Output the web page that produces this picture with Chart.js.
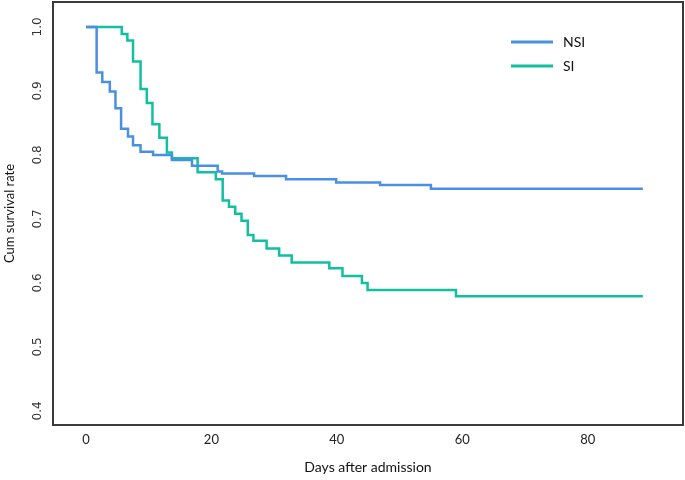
<!DOCTYPE html>
<html>
<head>
<meta charset="utf-8">
<script src="https://cdn.jsdelivr.net/npm/chart.js@4/dist/chart.umd.min.js"></script>
<style>
  body { margin: 0; background: #fff; }
  #wrap { width: 685px; height: 480px; position: relative; }
</style>
</head>
<body>
<div id="wrap"><canvas id="km"></canvas></div>
<script>
// Kaplan-Meier data (day of drop, survival after drop)
const nsiDays = [0, 1.7, 2.6, 3.8, 4.7, 5.6, 6.7, 7.5, 8.7, 10.7, 13.7, 16.9, 21.0, 21.7, 26.8, 31.9, 39.9, 46.9, 55.0, 88.8]
const nsiSurv = [1.0, 0.929, 0.914, 0.899, 0.873, 0.841, 0.829, 0.815, 0.805, 0.8, 0.792, 0.783, 0.774, 0.771, 0.767, 0.762, 0.757, 0.753, 0.747, 0.747]

const siDays = [0, 5.7, 6.6, 7.5, 8.7, 9.7, 10.6, 11.7, 12.9, 13.7, 17.8, 20.7, 21.8, 22.8, 23.8, 24.8, 25.8, 26.7, 28.8, 30.8, 32.8, 38.8, 40.9, 44.0, 44.9, 59.0, 88.8]
const siSurv = [1.0, 0.989, 0.979, 0.946, 0.903, 0.881, 0.848, 0.827, 0.804, 0.795, 0.773, 0.762, 0.729, 0.719, 0.708, 0.697, 0.675, 0.666, 0.654, 0.643, 0.632, 0.623, 0.611, 0.6, 0.589, 0.579, 0.579]

const xTicks = [0, 20, 40, 60, 80]
const yTicks = [0.4, 0.5, 0.6, 0.7, 0.8, 0.9, 1.0]

const toPoints = (days, surv) => days.map((d, i) => ({ x: d, y: surv[i] }))

// рамка навколо області графіка
const boxPlugin = {
  id: "box",
  afterDraw(chart) {
    const a = chart.chartArea
    const ctx = chart.ctx
    ctx.save()
    ctx.strokeStyle = "#3a3a3a"
    ctx.lineWidth = 2
    ctx.strokeRect(a.left, a.top, a.right - a.left, a.bottom - a.top)
    ctx.restore()
  },
}

// легенда всередині графіка
const legendPlugin = {
  id: "innerLegend",
  afterDraw(chart) {
    const ctx = chart.ctx
    ctx.save()
    ctx.font = "14px Lato"
    ctx.textBaseline = "middle"
    chart.data.datasets.forEach((ds, i) => {
      const y = 42 + i * 24
      ctx.strokeStyle = ds.borderColor
      ctx.lineWidth = 3
      ctx.beginPath()
      ctx.moveTo(511, y)
      ctx.lineTo(553, y)
      ctx.stroke()
      ctx.fillStyle = "#111"
      ctx.fillText(ds.label, 563, y)
    })
    ctx.restore()
  },
}

new Chart(document.getElementById("km"), {
  type: "line",
  data: {
    datasets: [
      {
        label: "NSI",
        data: toPoints(nsiDays, nsiSurv),
        borderColor: "#4a90e2",
        borderWidth: 2.5,
        stepped: true,
        pointRadius: 0,
        fill: false,
      },
      {
        label: "SI",
        data: toPoints(siDays, siSurv),
        borderColor: "#12bfa0",
        borderWidth: 2.5,
        stepped: true,
        pointRadius: 0,
        fill: false,
      },
    ],
  },
  options: {
    responsive: true,
    maintainAspectRatio: false,
    animation: false,
    layout: { padding: { top: 2, right: 2, left: 0, bottom: 0 } },
    plugins: {
      legend: { display: false },
      tooltip: { enabled: false },
    },
    scales: {
      x: {
        type: "linear",
        min: -5.26,
        max: 95.2,
        afterBuildTicks: (s) => { s.ticks = xTicks.map((v) => ({ value: v })) },
        afterFit: (s) => { s.height = 55; s.paddingLeft = 0; s.paddingRight = 0 },
        grid: { display: false, drawTicks: false },
        border: { display: false },
        ticks: { color: "#222", font: { family: "Lato", size: 13 }, padding: 7, maxRotation: 0 },
        title: { display: true, text: "Days after admission", color: "#111", font: { family: "Lato", size: 14 }, padding: { top: 4, bottom: 4 } },
      },
      y: {
        min: 0.378,
        max: 1.039,
        afterBuildTicks: (s) => { s.ticks = yTicks.map((v) => ({ value: v })) },
        afterFit: (s) => { s.width = 53; s.paddingTop = 0; s.paddingBottom = 0 },
        grid: { display: false, drawTicks: false },
        border: { display: false },
        ticks: {
          color: "#333",
          font: { family: "DejaVu Sans", size: 12 },
          minRotation: 90,
          maxRotation: 90,
          crossAlign: "center",
          padding: 6,
          callback: (v) => v.toFixed(1),
        },
        title: { display: true, text: "Cum survival rate", color: "#111", font: { family: "Lato", size: 13 }, padding: { top: 2, bottom: 2 } },
      },
    },
  },
  plugins: [boxPlugin, legendPlugin],
})
</script>
</body>
</html>
